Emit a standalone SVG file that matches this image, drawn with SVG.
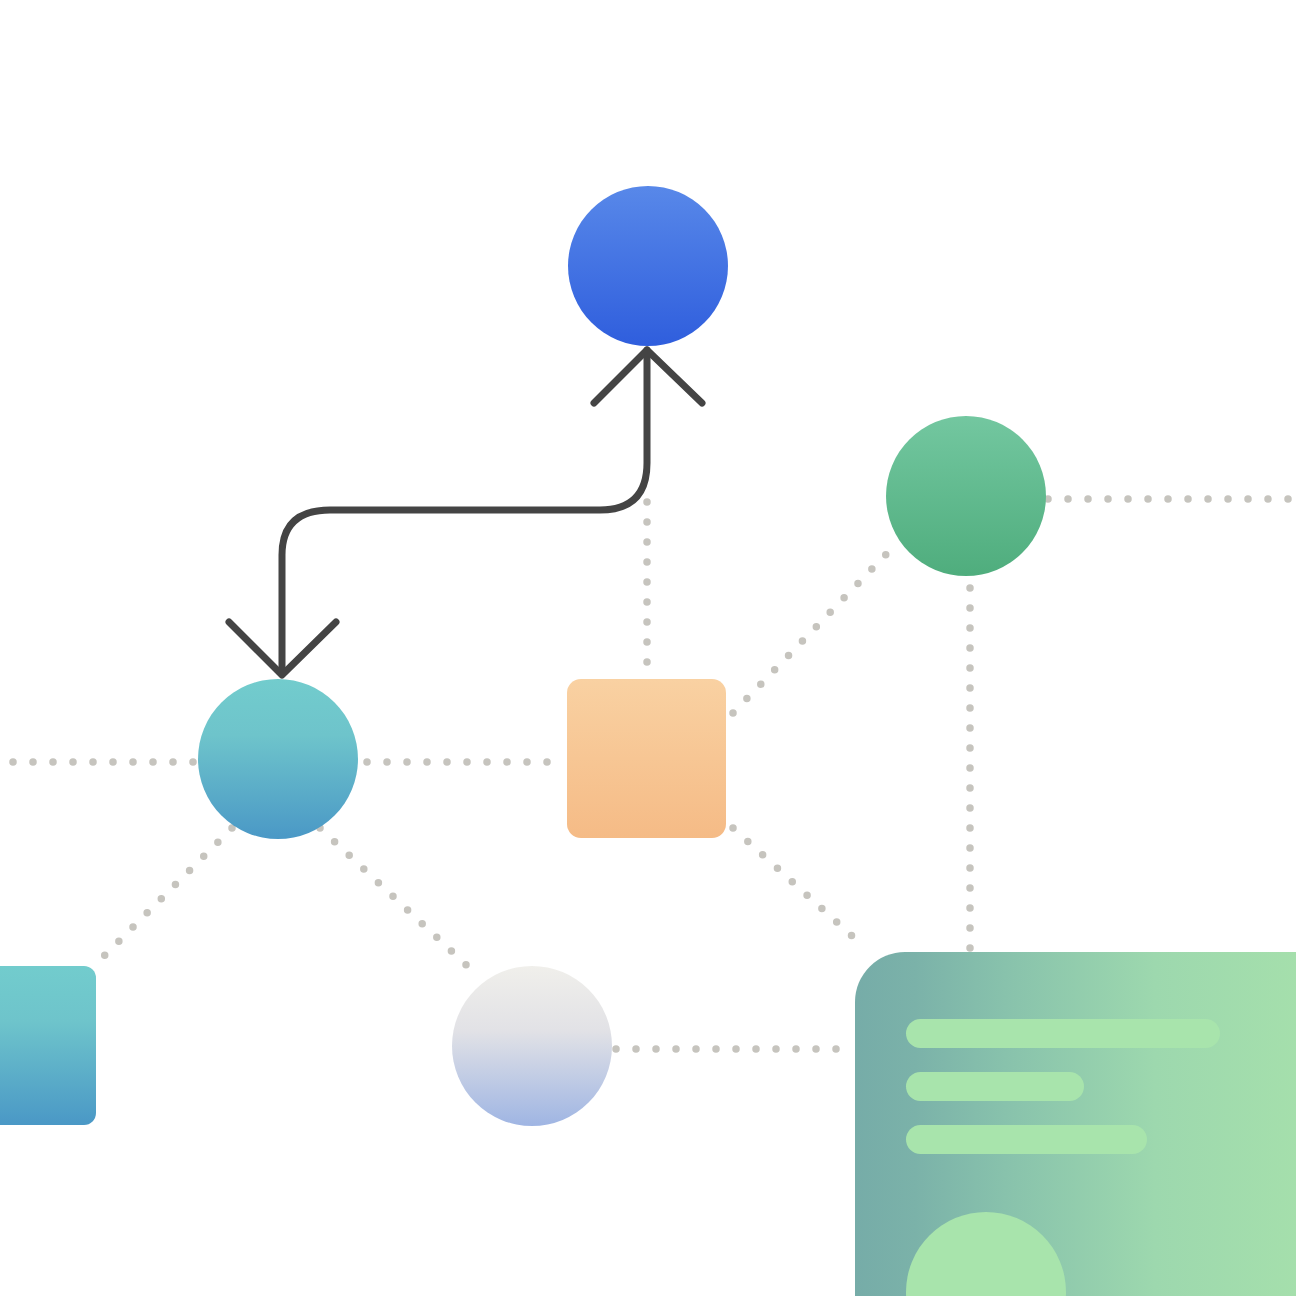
<svg xmlns="http://www.w3.org/2000/svg" width="1296" height="1296" viewBox="0 0 1296 1296">
<style>
.dot{fill:none;stroke:#c6c4be;stroke-width:7.5;stroke-linecap:round;stroke-dasharray:0 20}
.arrow{fill:none;stroke:#444444;stroke-width:7;stroke-linecap:round;stroke-linejoin:round}
.bar{fill:#a8e4ac}
</style>
<defs>
<linearGradient id="gBlue" x1="0" y1="0" x2="0" y2="1"><stop offset="0" stop-color="#5888e9"/><stop offset="1" stop-color="#2f5edd"/></linearGradient>
<linearGradient id="gGreen" x1="0" y1="0" x2="0" y2="1"><stop offset="0" stop-color="#73c7a0"/><stop offset="1" stop-color="#4fad7d"/></linearGradient>
<linearGradient id="gTeal" x1="0" y1="0" x2="0" y2="1"><stop offset="0" stop-color="#72cccd"/><stop offset="0.35" stop-color="#6ec4cb"/><stop offset="1" stop-color="#4a98c6"/></linearGradient>
<linearGradient id="gOrange" x1="0" y1="0" x2="0" y2="1"><stop offset="0" stop-color="#f9d1a2"/><stop offset="1" stop-color="#f5bb86"/></linearGradient>
<linearGradient id="gLight" x1="0" y1="0" x2="0" y2="1"><stop offset="0" stop-color="#f0efeb"/><stop offset="0.4" stop-color="#e2e2e6"/><stop offset="1" stop-color="#9fb5e3"/></linearGradient>
<linearGradient id="gCard" x1="0" y1="0" x2="1" y2="0"><stop offset="0" stop-color="#76aca8"/><stop offset="0.12" stop-color="#7bb2a9"/><stop offset="0.3" stop-color="#88c2ac"/><stop offset="0.6" stop-color="#9dd8ae"/><stop offset="1" stop-color="#a8e2ab"/></linearGradient>
</defs>
<rect width="1296" height="1296" fill="#ffffff"/>
<g id="connectors">
<path class="dot" d="M13 762 H198"/>
<path class="dot" d="M367 762 H563"/>
<path class="dot" d="M647 502 V675"/>
<path class="dot" d="M733 713 L897 543"/>
<path class="dot" d="M1048 499 H1296"/>
<path class="dot" d="M970 588 V950"/>
<path class="dot" d="M733 828 L862 945"/>
<path class="dot" d="M232 828 L92 968"/>
<path class="dot" d="M320 828 L477 975"/>
<path class="dot" d="M616 1049 H850"/>
<path class="arrow" d="M282 672 V555 Q282 510 330 510 H600 Q647 510 647 463 V350"/>
<path class="arrow" d="M594 403 L647 350 L702 403"/>
<path class="arrow" d="M229 622 L282 675 L336 622"/>
</g>
<g id="node-blue"><circle cx="648" cy="266" r="80" fill="url(#gBlue)"/></g>
<g id="node-green"><circle cx="966" cy="496" r="80" fill="url(#gGreen)"/></g>
<g id="node-teal"><circle cx="278" cy="759" r="80" fill="url(#gTeal)"/></g>
<g id="node-orange"><rect x="567" y="679" width="159" height="159" rx="14" fill="url(#gOrange)"/></g>
<g id="node-square"><rect x="-63" y="966" width="159" height="159" rx="12" fill="url(#gTeal)"/></g>
<g id="node-light"><circle cx="532" cy="1046" r="80" fill="url(#gLight)"/></g>
<g id="node-card">
<rect x="855" y="952" width="500" height="400" rx="50" fill="url(#gCard)"/>
<rect class="bar" x="906" y="1019" width="314" height="29" rx="14.5"/>
<rect class="bar" x="906" y="1072" width="178" height="29" rx="14.5"/>
<rect class="bar" x="906" y="1125" width="241" height="29" rx="14.5"/>
<circle class="bar" cx="986" cy="1292" r="80"/>
</g>
</svg>
